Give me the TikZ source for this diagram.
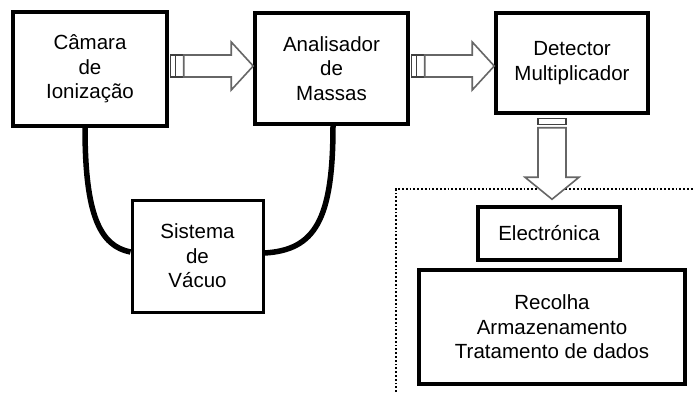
\documentclass[tikz,border=0pt]{standalone}
\usepackage{fontspec}
\setmainfont{Liberation Sans}
\usetikzlibrary{positioning, calc}
\tikzset{
x=1pt, y=-1pt, % one unit is one pixel of the drawing, y runs down
box/.style={draw, line width=3.5pt, align=center, inner sep=0pt,
  font=\fontsize{20.5}{24.5}\selectfont}, % the black blocks
pipe/.style={line width=5.5pt}, % the vacuum lines
stub/.style={draw=black!75, line width=1.2pt, fill=white}, % little flange before an arrow
blockarrow/.style={draw=black!60, line width=1.6pt, fill=white, line join=miter}, % hollow arrows
frame/.style={line width=1.8pt, dotted}, % dotted zone
}
% hollow horizontal arrow: start point, tip
\newcommand{\hollowright}[2]{
  \draw[stub] ($(#1)+(2,-11)$) rectangle ($(#1)+(7,11)$);
  \draw[stub] ($(#1)+(7,-11)$) rectangle ($(#1)+(15,11)$);
  \draw[blockarrow] ($(#1)+(15,-11)$) -- ($(#2)+(-22,-11)$) -- ($(#2)+(-22,-24)$)
    -- (#2) -- ($(#2)+(-22,24)$) -- ($(#2)+(-22,11)$) -- ($(#1)+(15,11)$) -- cycle;
}
\begin{document}
\begin{tikzpicture}
\useasboundingbox (0,0) rectangle (693,392);
% blocks
\node[box, minimum width=154pt, minimum height=114pt] (camara) at (90,69) {Câmara\\de\\Ionização};
\node[box, minimum width=153pt, minimum height=111pt] (analisador) at (331.5,68.5) {Analisador\\de\\Massas};
\node[box, minimum width=152pt, minimum height=100pt] (detector) at (572,63) {Detector\\Multiplicador};
\node[box, line width=3pt, minimum width=131pt, minimum height=112pt] (vacuo) at (197.5,256) {Sistema\\de\\Vácuo};
\node[box, minimum width=142pt, minimum height=53pt] (electronica) at (549,233.5) {Electrónica};
\node[box, minimum width=266pt, minimum height=114pt] (dados) at (552,327) {Recolha\\Armazenamento\\Tratamento de dados};
% dotted zone round the electronics
\draw[frame] (396,392) -- (396,189) -- (693,189);
% vacuum lines
\draw[pipe] ([xshift=-5pt]camara.south) .. controls (85,215) and (100,246) .. ([yshift=4pt]vacuo.west);
\draw[pipe] ([xshift=1.5pt]analisador.south) .. controls (333,220) and (315,250) .. ([yshift=3pt]vacuo.east);
% hollow arrows
\hollowright{$(camara.east)+(0,-3)$}{$(analisador.west)+(0,-2.5)$}
\hollowright{$(analisador.east)+(0,-2.5)$}{$(detector.west)+(0,3)$}
\coordinate (dtop) at ([xshift=-20pt]detector.south);
\coordinate (dtip) at ([xshift=3pt, yshift=6pt]electronica.north);
\draw[stub] ($(dtop)+(-14,4)$) rectangle ($(dtop)+(14,10)$);
\draw[blockarrow] ($(dtop)+(-14,13)$) -- ($(dtip)+(-14,-22)$) -- ($(dtip)+(-27,-22)$)
  -- (dtip) -- ($(dtip)+(27,-22)$) -- ($(dtip)+(14,-22)$) -- ($(dtop)+(14,13)$) -- cycle;
\end{tikzpicture}
\end{document}
